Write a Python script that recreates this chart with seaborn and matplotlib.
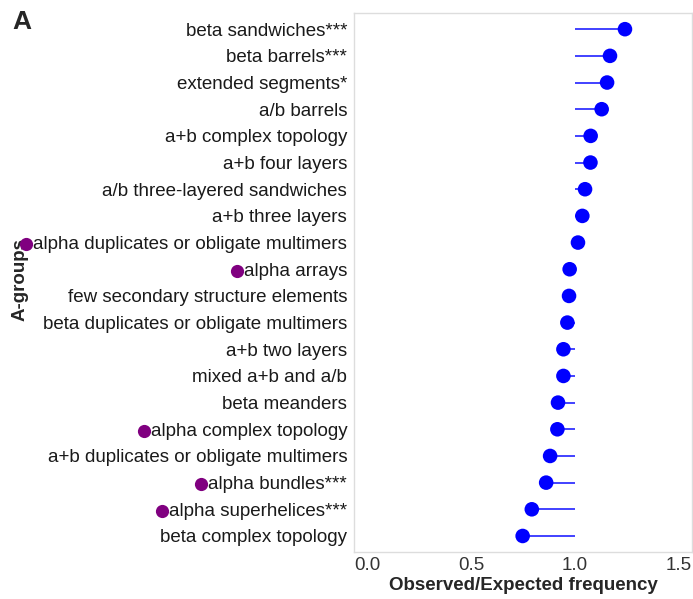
import pandas as pd
import seaborn as sns
import matplotlib.pyplot as plt
import numpy as np

# A-groups, top to bottom, with observed/expected ratios
groups = ['beta sandwiches***', 'beta barrels***', 'extended segments*', 'a/b barrels',
          'a+b complex topology', 'a+b four layers', 'a/b three-layered sandwiches',
          'a+b three layers', 'alpha duplicates or obligate multimers', 'alpha arrays',
          'few secondary structure elements', 'beta duplicates or obligate multimers',
          'a+b two layers', 'mixed a+b and a/b', 'beta meanders', 'alpha complex topology',
          'a+b duplicates or obligate multimers', 'alpha bundles***', 'alpha superhelices***',
          'beta complex topology']
ratio = [1.240, 1.168, 1.154, 1.128, 1.075, 1.074, 1.048, 1.035, 1.014, 0.974,
         0.971, 0.963, 0.944, 0.944, 0.918, 0.915, 0.880, 0.861, 0.792, 0.748]
# groups flagged with a purple marker (all-alpha classes)
alpha_flag = [g.startswith('alpha') for g in groups]

df = pd.DataFrame({'group': groups, 'ratio': ratio, 'alpha': alpha_flag})
df['pos'] = np.arange(len(df))

sns.set_style('white')
plt.rcParams['font.family'] = ['Liberation Sans', 'DejaVu Sans']

fig = plt.figure(figsize=(6.93, 5.99), dpi=100)
ax = fig.add_axes([0.511, 0.0785, 0.4876, 0.8995])

# segments from 1.0 to the value
ax.hlines(df['pos'], 1.0, df['ratio'], color='#3333ff', linewidth=1.3, zorder=2)
sns.scatterplot(data=df, x='ratio', y='pos', color='blue', s=110, edgecolor='none',
                ax=ax, zorder=3, legend=False)

ax.set_yticks(df['pos'])
ax.set_yticklabels(df['group'], fontsize=13.5, color='#1a1a1a')
ax.set_ylim(len(df) - 0.4, -0.6)
ax.set_xlim(-0.0625, 1.5625)
ax.set_xticks([0.0, 0.5, 1.0, 1.5])
ax.set_xticklabels(['0.0', '0.5', '1.0', '1.5'], fontsize=13.5, color='#333333')
ax.tick_params(axis='x', length=3, width=0.6, color='#cccccc', pad=0.5)
ax.tick_params(axis='y', length=0, pad=5)

for s in ax.spines.values():
    s.set_color('#dddddd')
    s.set_linewidth(1.0)

ax.set_xlabel('Observed/Expected frequency', fontsize=13.5, fontweight='bold', labelpad=2.5)
ax.set_ylabel('A-groups', fontsize=13.5, fontweight='bold')
ax.yaxis.set_label_coords(-0.965, 0.505)

fig.text(0.018, 0.983, 'A', fontsize=19, fontweight='bold', va='top', ha='left')

# purple dots in front of the alpha labels
fig.canvas.draw()
renderer = fig.canvas.get_renderer()
inv = fig.transFigure.inverted()
for lab, flag in zip(ax.get_yticklabels(), alpha_flag):
    if not flag:
        continue
    bb = lab.get_window_extent(renderer)
    xf, yf = inv.transform((bb.x0 - 7, (bb.y0 + bb.y1) / 2 + 0.5))
    fig.add_artist(plt.Line2D([xf], [yf], marker='o', markersize=9.5, color='purple',
                              markeredgewidth=0, transform=fig.transFigure))

fig.savefig('out.png', dpi=100)
